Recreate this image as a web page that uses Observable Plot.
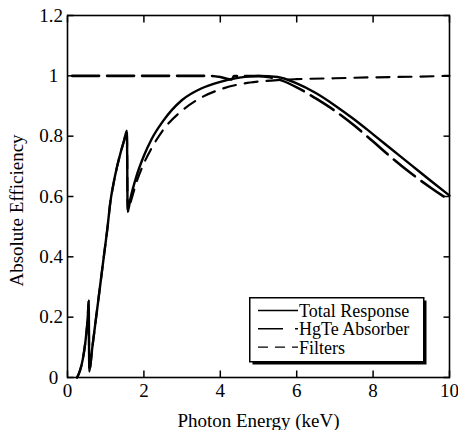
<!DOCTYPE html>
<html><head><meta charset="utf-8">
<script src="https://cdn.jsdelivr.net/npm/d3@7"></script>
<script src="https://cdn.jsdelivr.net/npm/@observablehq/plot@0.6"></script>
<style>
body{margin:0;background:#fff;}
#wrap{position:relative;width:458px;height:430px;font-family:'Liberation Serif','DejaVu Serif',serif;}
#wrap svg, #wrap svg text{font-family:'Liberation Serif','DejaVu Serif',serif !important;}
</style></head><body><div id="wrap"></div>
<script>
// ---- data ----
const seriesNames = ["Total Response", "HgTe Absorber", "Filters"];
const xTicks = [0, 2, 4, 6, 8, 10];
const yTicks = [0, 0.2, 0.4, 0.6, 0.8, 1, 1.2];

const totalE = [0.25,0.32,0.40,0.47,0.53,0.555,0.57,0.65,0.75,0.85,0.95,1.05,1.12,1.2,1.3,1.4,1.48,1.555,1.575,1.65,1.8,2.0,2.2,2.5,3.0,3.5,4.0,4.5,5.0,5.5,6.0,6.5,7.0,7.5,8.0,8.5,9.0,9.5,10];
const totalV = [0,0.02,0.06,0.12,0.2,0.255,0.02,0.1,0.2,0.3,0.4,0.5,0.58,0.64,0.7,0.75,0.785,0.818,0.55,0.595,0.665,0.735,0.79,0.85,0.92,0.958,0.98,0.994,1.0,0.996,0.975,0.943,0.902,0.856,0.806,0.755,0.704,0.653,0.603];

const hgteE = [0.12,1,2,3,3.7,4.0,4.3,4.36,5.0,5.3,5.6,6.0,6.5,7.0,7.5,8.0,8.5,9.0,9.5,10];
const hgteV = [1.0,1.0,1.0,1.0,1.0,0.996,0.988,0.999,0.999,0.995,0.985,0.962,0.925,0.884,0.836,0.782,0.727,0.676,0.63,0.587];

const filtE = [0.25,0.32,0.40,0.47,0.53,0.555,0.57,0.65,0.75,0.85,0.95,1.05,1.12,1.2,1.3,1.4,1.48,1.555,1.575,1.65,1.8,2.0,2.2,2.5,3.0,3.5,4.0,4.5,5.0,5.5,6.0,7.0,8.0,9.0,10];
const filtV = [0,0.02,0.06,0.12,0.2,0.255,0.02,0.1,0.2,0.3,0.4,0.5,0.58,0.64,0.7,0.75,0.785,0.818,0.55,0.58,0.645,0.71,0.76,0.82,0.885,0.928,0.955,0.972,0.981,0.986,0.989,0.992,0.995,0.997,1.0];

const lineDash = [null, "27,8", "13,9"];
const lineWidth = [2.4, 2.6, 2.2];
const legendDash = [null, "25,12", "10,7"];

const FONT = "'Liberation Serif', 'DejaVu Serif', serif";

// ---- build tables ----
const toRows = (E, V) => E.map((e, i) => ({e, v: V[i]}));
const series = [toRows(totalE, totalV), toRows(hgteE, hgteV), toRows(filtE, filtV)];

const plot = Plot.plot({
  width: 458, height: 430,
  marginLeft: 67, marginRight: 9, marginTop: 15, marginBottom: 53,
  style: {fontFamily: FONT, fontSize: "19px", color: "black", background: "white"},
  x: {domain: [0, 10]},
  y: {domain: [0, 1.2]},
  marks: [
    Plot.axisX({anchor: "bottom", ticks: xTicks, tickSize: -6.5, tickPadding: 12.5, strokeWidth: 1.5, tickFormat: d => String(d), label: null, fontSize: 19}),
    Plot.axisX({anchor: "top", ticks: xTicks, tickSize: -6.5, strokeWidth: 1.5, tickFormat: () => "", label: null}),
    Plot.axisY({anchor: "left", ticks: yTicks, tickSize: -6.5, tickPadding: 11, strokeWidth: 1.5, tickFormat: d => Number.isInteger(d) ? d + "\u00a0" : String(d), label: null, fontSize: 19}),
    Plot.axisY({anchor: "right", ticks: yTicks, tickSize: -6.5, strokeWidth: 1.5, tickFormat: () => "", label: null}),
    ...series.map((rows, i) => Plot.line(rows, {x: "e", y: "v", stroke: "black", strokeWidth: lineWidth[i], strokeDasharray: lineDash[i], curve: "monotone-x"})),
    Plot.frame({stroke: "black", strokeWidth: 1.6}),
    Plot.text(["Photon Energy (keV)"], {text: d => d, frameAnchor: "bottom", dy: 43, lineAnchor: "middle", textAnchor: "middle", fontSize: 19}),
    Plot.text(["Absolute Efficiency"], {text: d => d, frameAnchor: "middle", rotate: -90, dx: -242, dy: 14, lineAnchor: "middle", textAnchor: "middle", fontSize: 19})
  ]
});
const wrap = document.getElementById("wrap");
wrap.appendChild(plot);

// ---- legend ----
const leg = d3.select(wrap).append("svg")
  .attr("width", 182).attr("height", 72)
  .style("position", "absolute").style("left", "249px").style("top", "297px")
  .style("font-family", FONT);
leg.append("rect").attr("x", 3.5).attr("y", 3.5).attr("width", 174).attr("height", 64).attr("fill", "black");
leg.append("rect").attr("x", 0.75).attr("y", 0.75).attr("width", 174).attr("height", 64)
  .attr("fill", "white").attr("stroke", "black").attr("stroke-width", 1.5);
seriesNames.forEach((name, i) => {
  const ly = 13.5 + i * 18.3;
  leg.append("line").attr("x1", 9).attr("x2", 49).attr("y1", ly).attr("y2", ly)
    .attr("stroke", "black").attr("stroke-width", 1.4)
    .attr("stroke-dasharray", legendDash[i]);
  leg.append("text").attr("x", 50).attr("y", 20 + i * 18.3).attr("font-size", 18)
    .attr("font-family", FONT).attr("fill", "black").text(name);
});
</script>
</body></html>
